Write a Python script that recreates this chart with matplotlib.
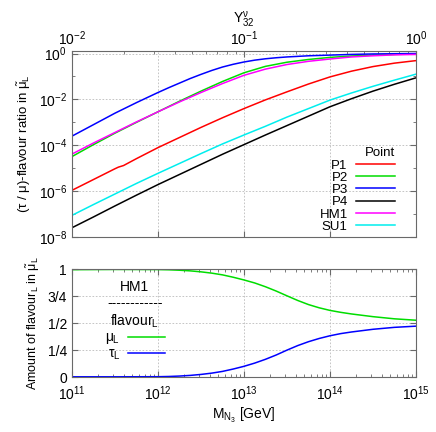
import numpy as np
import matplotlib
matplotlib.use("Agg")
import matplotlib.pyplot as plt
from matplotlib.ticker import FixedLocator, NullFormatter, LogLocator

plt.rcParams['font.family'] = ['Liberation Sans', 'DejaVu Sans']
plt.rcParams['mathtext.fontset'] = 'custom'
plt.rcParams['mathtext.rm'] = 'Liberation Sans'
plt.rcParams['mathtext.it'] = 'Liberation Sans'
plt.rcParams['font.size'] = 10

# ---- top panel: log10 of Y^nu_32 and log10 of the flavour ratio ----
logY = [-2.0, -1.875, -1.75, -1.625, -1.5, -1.375, -1.25, -1.125, -1.0,
        -0.875, -0.75, -0.625, -0.5, -0.375, -0.25, -0.125, 0.0]
P2 = [-4.49, -3.97, -3.47, -3.00, -2.54, -2.08, -1.64, -1.22, -0.84,
      -0.56, -0.38, -0.26, -0.17, -0.11, -0.07, -0.04, -0.02]
P4 = [-7.59, -7.12, -6.64, -6.17, -5.71, -5.27, -4.83, -4.39, -3.97,
      -3.55, -3.14, -2.73, -2.32, -1.97, -1.64, -1.34, -1.06]
HM1 = [-4.38, -3.90, -3.44, -2.98, -2.54, -2.11, -1.70, -1.31, -0.95,
       -0.68, -0.48, -0.34, -0.24, -0.15, -0.10, -0.06, -0.04]
SU1 = [-7.05, -6.58, -6.12, -5.66, -5.22, -4.79, -4.36, -3.94, -3.55,
       -3.17, -2.77, -2.40, -2.03, -1.72, -1.43, -1.16, -0.90]
# P3 bends sharply, read on a finer grid
logY_P3 = [-2.0, -1.875, -1.75, -1.625, -1.5, -1.4375, -1.375, -1.3125,
           -1.25, -1.1875, -1.125, -1.0625, -1.0, -0.9375, -0.875,
           -0.8125, -0.75, -0.625, -0.5, -0.375, -0.25, -0.125, 0.0]
P3 = [-3.60, -3.10, -2.60, -2.14, -1.70, -1.49, -1.29, -1.09,
      -0.91, -0.74, -0.59, -0.47, -0.37, -0.29, -0.23,
      -0.185, -0.15, -0.10, -0.07, -0.04, -0.02, -0.01, 0.0]
# P1 has a little kink near Y = 0.018
logY_P1 = [-2.0, -1.875, -1.75, -1.73, -1.70, -1.625, -1.5, -1.375, -1.25,
           -1.125, -1.0, -0.875, -0.75, -0.625, -0.5, -0.375, -0.25,
           -0.125, 0.0]
P1 = [-5.96, -5.49, -5.02, -4.95, -4.88, -4.58, -4.10, -3.66, -3.22,
      -2.80, -2.40, -2.02, -1.67, -1.33, -1.02, -0.77, -0.57, -0.42, -0.31]

points = ['P1', 'P2', 'P3', 'P4', 'HM1', 'SU1']
colors = ['#ff0000', '#00dd00', '#0000ff', '#000000', '#ff00ff', '#00eeee']
xgrids = [logY_P1, logY, logY_P3, logY, logY, logY]

# ---- bottom panel: log10 M_N3 [GeV] and flavour content of HM1 ----
logM = [11.0, 11.5, 12.0, 12.125, 12.25, 12.375, 12.5, 12.625, 12.75,
        12.875, 13.0, 13.125, 13.25, 13.375, 13.5, 13.625, 13.75, 13.875,
        14.0, 14.125, 14.25, 14.5, 14.75, 15.0]
mu_L = [0.995, 0.997, 0.996, 0.994, 0.99, 0.984, 0.975, 0.963, 0.947,
        0.925, 0.90, 0.872, 0.837, 0.797, 0.753, 0.71, 0.672, 0.642,
        0.618, 0.60, 0.585, 0.56, 0.54, 0.527]
tau_L = [0.003, 0.003, 0.004, 0.006, 0.01, 0.016, 0.025, 0.037, 0.053,
         0.075, 0.10, 0.13, 0.165, 0.205, 0.25, 0.292, 0.328, 0.358,
         0.383, 0.403, 0.418, 0.443, 0.461, 0.472]

fig = plt.figure(figsize=(4.36, 4.32), dpi=100)
frame = 'dimgray'
grid_kw = dict(color='#bbbbbb', linestyle=(0, (2, 2)), linewidth=0.6)

# ================= top =================
# hidden mass axis, only for the bottom ticks and the vertical grid
axM = fig.add_axes([0.165, 0.451, 0.789, 0.431])
axM.set_xscale('log')
axM.set_xlim(1e11, 1e15)
axM.xaxis.set_major_locator(FixedLocator([1e12, 1e13, 1e14]))
axM.xaxis.set_minor_locator(FixedLocator([]))
axM.xaxis.set_major_formatter(NullFormatter())
axM.tick_params(axis='x', direction='in', length=4, color=frame)
axM.tick_params(axis='y', left=False, labelleft=False)
axM.grid(True, axis='x', **grid_kw)
for s in axM.spines.values():
    s.set_visible(False)

ax = fig.add_axes([0.165, 0.451, 0.789, 0.431])
ax.patch.set_visible(False)
ax.set_xscale('log')
ax.set_yscale('log')
ax.set_xlim(1e-2, 1)
ax.set_ylim(1e-8, 10 ** 0.11)
for name, xs, vals, c in zip(points, xgrids, [P1, P2, P3, P4, HM1, SU1], colors):
    ax.plot(10 ** np.array(xs), 10 ** np.array(vals), color=c, lw=1.1,
            label=name)

ax.xaxis.tick_top()
ax.xaxis.set_label_position('top')
ax.set_xlabel(r'Y$^{\nu}_{32}$', labelpad=4)
ax.yaxis.set_major_locator(FixedLocator([1e-8, 1e-6, 1e-4, 1e-2, 1e0]))
ax.yaxis.set_minor_locator(FixedLocator([1e-7, 1e-5, 1e-3, 1e-1]))
ax.yaxis.set_minor_formatter(NullFormatter())
ax.grid(True, axis='y', which='major', **grid_kw)
ax.tick_params(which='both', direction='in', right=True, color=frame)
ax.tick_params(which='major', length=4)
ax.tick_params(which='minor', length=2)
ax.tick_params(axis='x', which='major', pad=2)
for s in ax.spines.values():
    s.set_color(frame)
ax.set_ylabel(r'($\tau$ / $\mu$)-flavour ratio in $\tilde{\mu}_\mathrm{L}$',
              fontsize=9.5, labelpad=4)
leg = ax.legend(title='Point', loc='lower right', frameon=False,
                markerfirst=False, handlelength=3.0, labelspacing=0.0,
                borderaxespad=0.0, handletextpad=0.6, fontsize=9.5,
                title_fontsize=9.5, bbox_to_anchor=(0.955, -0.005))
leg._legend_box.align = 'right'

# ================= bottom =================
bx = fig.add_axes([0.165, 0.127, 0.789, 0.250])
bx.plot(10 ** np.array(logM), mu_L, color='#00dd00', lw=1.1,
        label=r'$\mu_\mathrm{L}$')
bx.plot(10 ** np.array(logM), tau_L, color='#0000ff', lw=1.1,
        label=r'$\tau_\mathrm{L}$')
bx.set_xscale('log')
bx.set_xlim(1e11, 1e15)
bx.set_ylim(0, 1)
bx.xaxis.set_major_locator(LogLocator(base=10, numticks=10))
bx.xaxis.set_minor_locator(LogLocator(base=10, subs=np.arange(2, 10), numticks=10))
bx.xaxis.set_minor_formatter(NullFormatter())
bx.set_yticks([0, 0.25, 0.5, 0.75, 1])
bx.set_yticklabels(['0', '1/4', '1/2', '3/4', '1'])
bx.grid(True, which='major', **grid_kw)
bx.tick_params(which='both', direction='in', top=True, right=True, color=frame)
bx.tick_params(which='major', length=4)
bx.tick_params(which='minor', length=2)
bx.tick_params(axis='x', pad=5)
for s in bx.spines.values():
    s.set_color(frame)
bx.set_xlabel(r'M$_{\mathrm{N}_3}$ [GeV]', labelpad=2)
bx.set_ylabel(r'Amount of flavour$_\mathrm{L}$ in $\tilde{\mu}_\mathrm{L}$',
              fontsize=9, labelpad=4)
bleg = bx.legend(title='HM1\n------------\nflavour$_\\mathrm{L}$',
                 loc='center left', frameon=False, markerfirst=False,
                 handlelength=2.6, labelspacing=0.0, handletextpad=0.6,
                 borderaxespad=0.0, bbox_to_anchor=(0.08, 0.52))
bleg.get_title().set_multialignment('center')

fig.savefig('out.png', dpi=100)
